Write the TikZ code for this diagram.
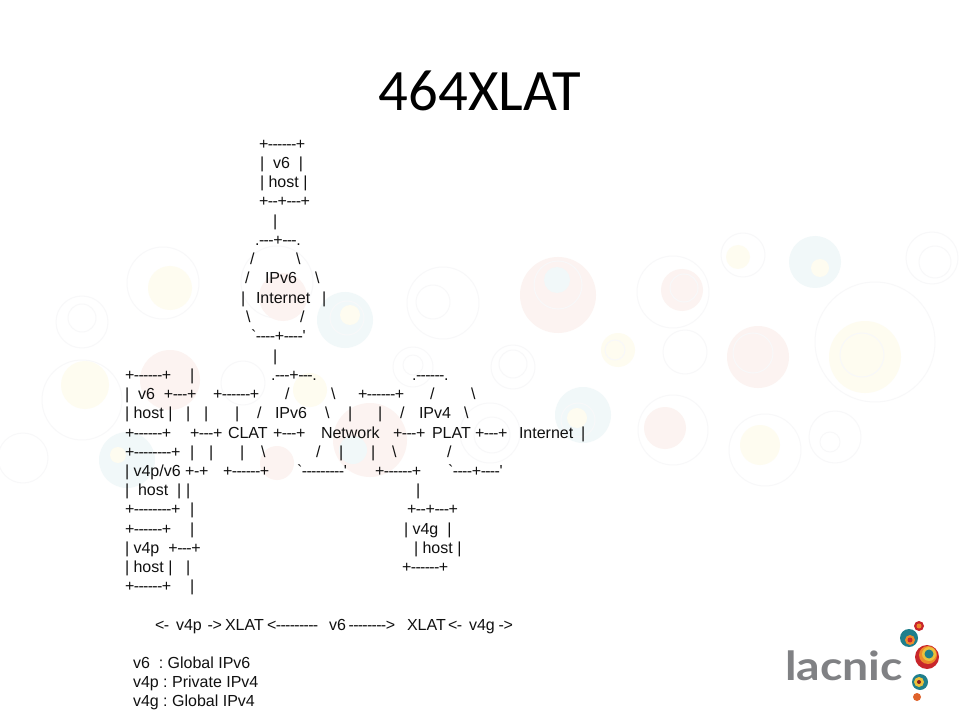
\documentclass[tikz,border=0pt]{standalone}
\usepackage{fontspec}
\usepackage{graphicx}
\newfontfamily\ascfont{Liberation Sans}
\newfontfamily\titlefont{Carlito}
\newfontfamily\logofont{Lato}
\definecolor{bred}{HTML}{FCF3F1}
\definecolor{bylw}{HTML}{FEFCF0}
\definecolor{bteal}{HTML}{F1F8F9}
\definecolor{bring}{HTML}{F8F8F9}
\definecolor{lgray}{HTML}{808184}
\definecolor{lred}{HTML}{C8262B}
\definecolor{lorange}{HTML}{EE8A2B}
\definecolor{lteal}{HTML}{1F7F8C}
\definecolor{lyellow}{HTML}{EBC13C}
\definecolor{asctxt}{HTML}{111111}
\newcount\tcnt
\newdimen\dshk \dshk=-0.27pt
{\catcode`\-=13 \gdef-{\kern\dshk\char45\kern\dshk}}
\newcommand{\asc}[2]{\begingroup\catcode`\-=13 \ascread{#1}{#2}}
\newcommand{\ascread}[3]{\endgroup\global\advance\tcnt by 1
  \node[asctext] (t\the\tcnt) at (#1,#2+6) {#3};}
\newcommand{\bs}{\textbackslash}
\newcommand{\bub}[4]{\fill[#4] (#1,#2) circle (#3);}
\newcommand{\rng}[3]{\draw[bring,line width=0.75pt] (#1,#2) circle (#3);}
\tikzset{asctext/.style={anchor=base west,inner sep=0pt,outer sep=0pt,font=\ascfont\fontsize{12pt}{14pt}\selectfont,text=asctxt}}
\begin{document}
\begin{tikzpicture}[x=0.75pt,y=-0.75pt]
\useasboundingbox (0,0) rectangle (960,720);
\fill[white] (0,0) rectangle (960,720);
% background bubbles
\rng{163}{283}{36}\bub{170}{288}{22}{bylw}
\rng{82}{322}{26}\rng{82}{318}{14}
\bub{170}{380}{30}{bred}
\rng{82}{400}{40}\bub{85}{385}{24}{bylw}
\rng{23}{458}{25}
\bub{127}{460}{28}{bteal}\bub{118}{455}{8}{bylw}
\rng{277}{282}{36}\bub{283}{297}{24}{bred}
\bub{345}{320}{28}{bteal}\bub{350}{315}{10}{bylw}\rng{347}{318}{17}
\rng{243}{383}{22}
\bub{310}{390}{17}{bylw}
\bub{277}{463}{17}{bred}
\bub{370}{440}{37}{bred}\bub{353}{450}{14}{bteal}
\rng{443}{303}{36}\rng{433}{302}{17}
\rng{413}{367}{20}\rng{413}{365}{10}
\bub{558}{295}{38}{bred}\bub{557}{280}{13}{bteal}\rng{558}{285}{24}
\rng{673}{292}{36}\bub{682}{290}{21}{bred}\rng{684}{288}{14}
\rng{743}{255}{22}\bub{738}{257}{12}{bylw}
\bub{815}{262}{26}{bteal}\bub{820}{268}{9}{bylw}
\rng{932}{258}{26}\rng{935}{262}{16}
\rng{875}{342}{60}\bub{865}{357}{36}{bylw}\rng{862}{355}{22}
\bub{758}{357}{31}{bred}\rng{753}{353}{20}
\rng{685}{352}{22}
\bub{618}{350}{17}{bylw}\rng{615}{350}{10}
\rng{513}{367}{22}\rng{513}{364}{14}
\bub{583}{415}{28}{bteal}\bub{577}{418}{10}{bylw}\rng{578}{420}{17}
\rng{673}{430}{35}\bub{665}{428}{21}{bred}
\rng{765}{450}{36}\bub{760}{445}{20}{bylw}
\rng{835}{437}{26}\rng{830}{442}{10}
\rng{490}{433}{30}\rng{492}{435}{18}
% title
\node[anchor=center,inner sep=0pt,font=\titlefont\fontsize{44pt}{50pt}\selectfont] (title) at (480,91) {464XLAT};
% upper host and internet
\asc{259}{144}{+------+}
\asc{260}{163}{|~~v6~~|}
\asc{260}{182}{|~host~|}
\asc{259}{201}{+--+---+}
\asc{273}{221}{|}
\asc{255}{240}{.---+---.}
\asc{250}{259}{/}\asc{296}{259}{\bs}
\asc{245}{278}{/}\asc{265}{278}{IPv6}\asc{315}{278}{\bs}
\asc{241}{297}{|}\asc{256}{297}{Internet}\asc{322}{297}{|}
\asc{246}{316}{\bs}\asc{300}{316}{/}
\asc{251}{335}{`----+----'}
\asc{273}{355}{|}
% row 374
\asc{125}{374}{+------+}\asc{190}{374}{|}\asc{271}{374}{.---+---.}\asc{412}{374}{.------.}
% row 393
\asc{125}{393}{|~~v6~~+---+}\asc{213}{393}{+------+}\asc{285}{393}{/}\asc{331}{393}{\bs}\asc{358}{393}{+------+}\asc{430}{393}{/}\asc{471}{393}{\bs}
% row 412
\asc{125}{412}{|~host~|}\asc{186}{412}{|}\asc{204}{412}{|}\asc{235}{412}{|}\asc{257}{412}{/}\asc{275}{412}{IPv6}\asc{325}{412}{\bs}\asc{348}{412}{|}\asc{378}{412}{|}\asc{400}{412}{/}\asc{419}{412}{IPv4}\asc{464}{412}{\bs}
% row 432
\asc{125}{432}{+------+}\asc{190}{432}{+---+}\asc{228}{432}{CLAT}\asc{273}{432}{+---+}\asc{321}{432}{Network}\asc{393}{432}{+---+}\asc{432}{432}{PLAT}\asc{475}{432}{+---+}\asc{519}{432}{Internet}\asc{581}{432}{|}
% row 451
\asc{125}{451}{+--------+}\asc{190}{451}{|}\asc{209}{451}{|}\asc{240}{451}{|}\asc{261}{451}{\bs}\asc{316}{451}{/}\asc{339}{451}{|}\asc{371}{451}{|}\asc{392}{451}{\bs}\asc{447}{451}{/}
% row 470
\asc{125}{470}{|~v4p/v6~+-+}\asc{223}{470}{+------+}\asc{297}{470}{`---------'}\asc{375}{470}{+------+}\asc{448}{470}{`----+----'}
% row 489
\asc{125}{489}{|}\asc{138}{489}{host}\asc{177}{489}{|}\asc{186}{489}{|}\asc{416}{489}{|}
% row 508
\asc{125}{508}{+--------+}\asc{190}{508}{|}\asc{407}{508}{+--+---+}
% row 528
\asc{125}{528}{+------+}\asc{190}{528}{|}\asc{404}{528}{|~v4g~~|}
% row 547
\asc{125}{547}{|~v4p~~+---+}\asc{414}{547}{|~host~|}
% row 566
\asc{125}{566}{|~host~|}\asc{186}{566}{|}\asc{402}{566}{+------+}
% row 585
\asc{125}{585}{+------+}\asc{190}{585}{|}
% legend
\asc{155}{624}{<-}\asc{176}{624}{v4p}\asc{208}{624}{->}\asc{225}{624}{XLAT}\asc{267}{624}{<---------}\asc{329}{624}{v6}\asc{349}{624}{-------->}\asc{407}{624}{XLAT}\asc{448}{624}{<-}\asc{469}{624}{v4g}\asc{499}{624}{->}
\asc{133}{662}{v6~~:~Global~IPv6}
\asc{133}{681}{v4p~:~Private~IPv4}
\asc{133}{700}{v4g~:~Global~IPv4}
% logo
\node[anchor=base west,inner sep=0pt,text=lgray,font=\logofont\bfseries\fontsize{30pt}{36pt}\selectfont] (logo) at (785,680) {\scalebox{1.16}[1]{lacnic}};
\bub{919}{626}{5}{lred}\bub{919}{626}{2.5}{lorange}
\bub{909}{638}{9}{lteal}\bub{910}{640}{5}{lorange}\bub{910}{640}{2.5}{lred}
\bub{927}{657}{12}{lred}\bub{928}{655}{9}{lorange}\bub{929}{654}{7}{lyellow}\bub{929}{654}{4.5}{lteal}
\bub{920}{682}{8}{lteal}\bub{919}{682}{5}{lyellow}\bub{919}{682}{2}{lred!70!black}
\bub{917}{697}{4}{lorange!60!lred}
\end{tikzpicture}
\end{document}
